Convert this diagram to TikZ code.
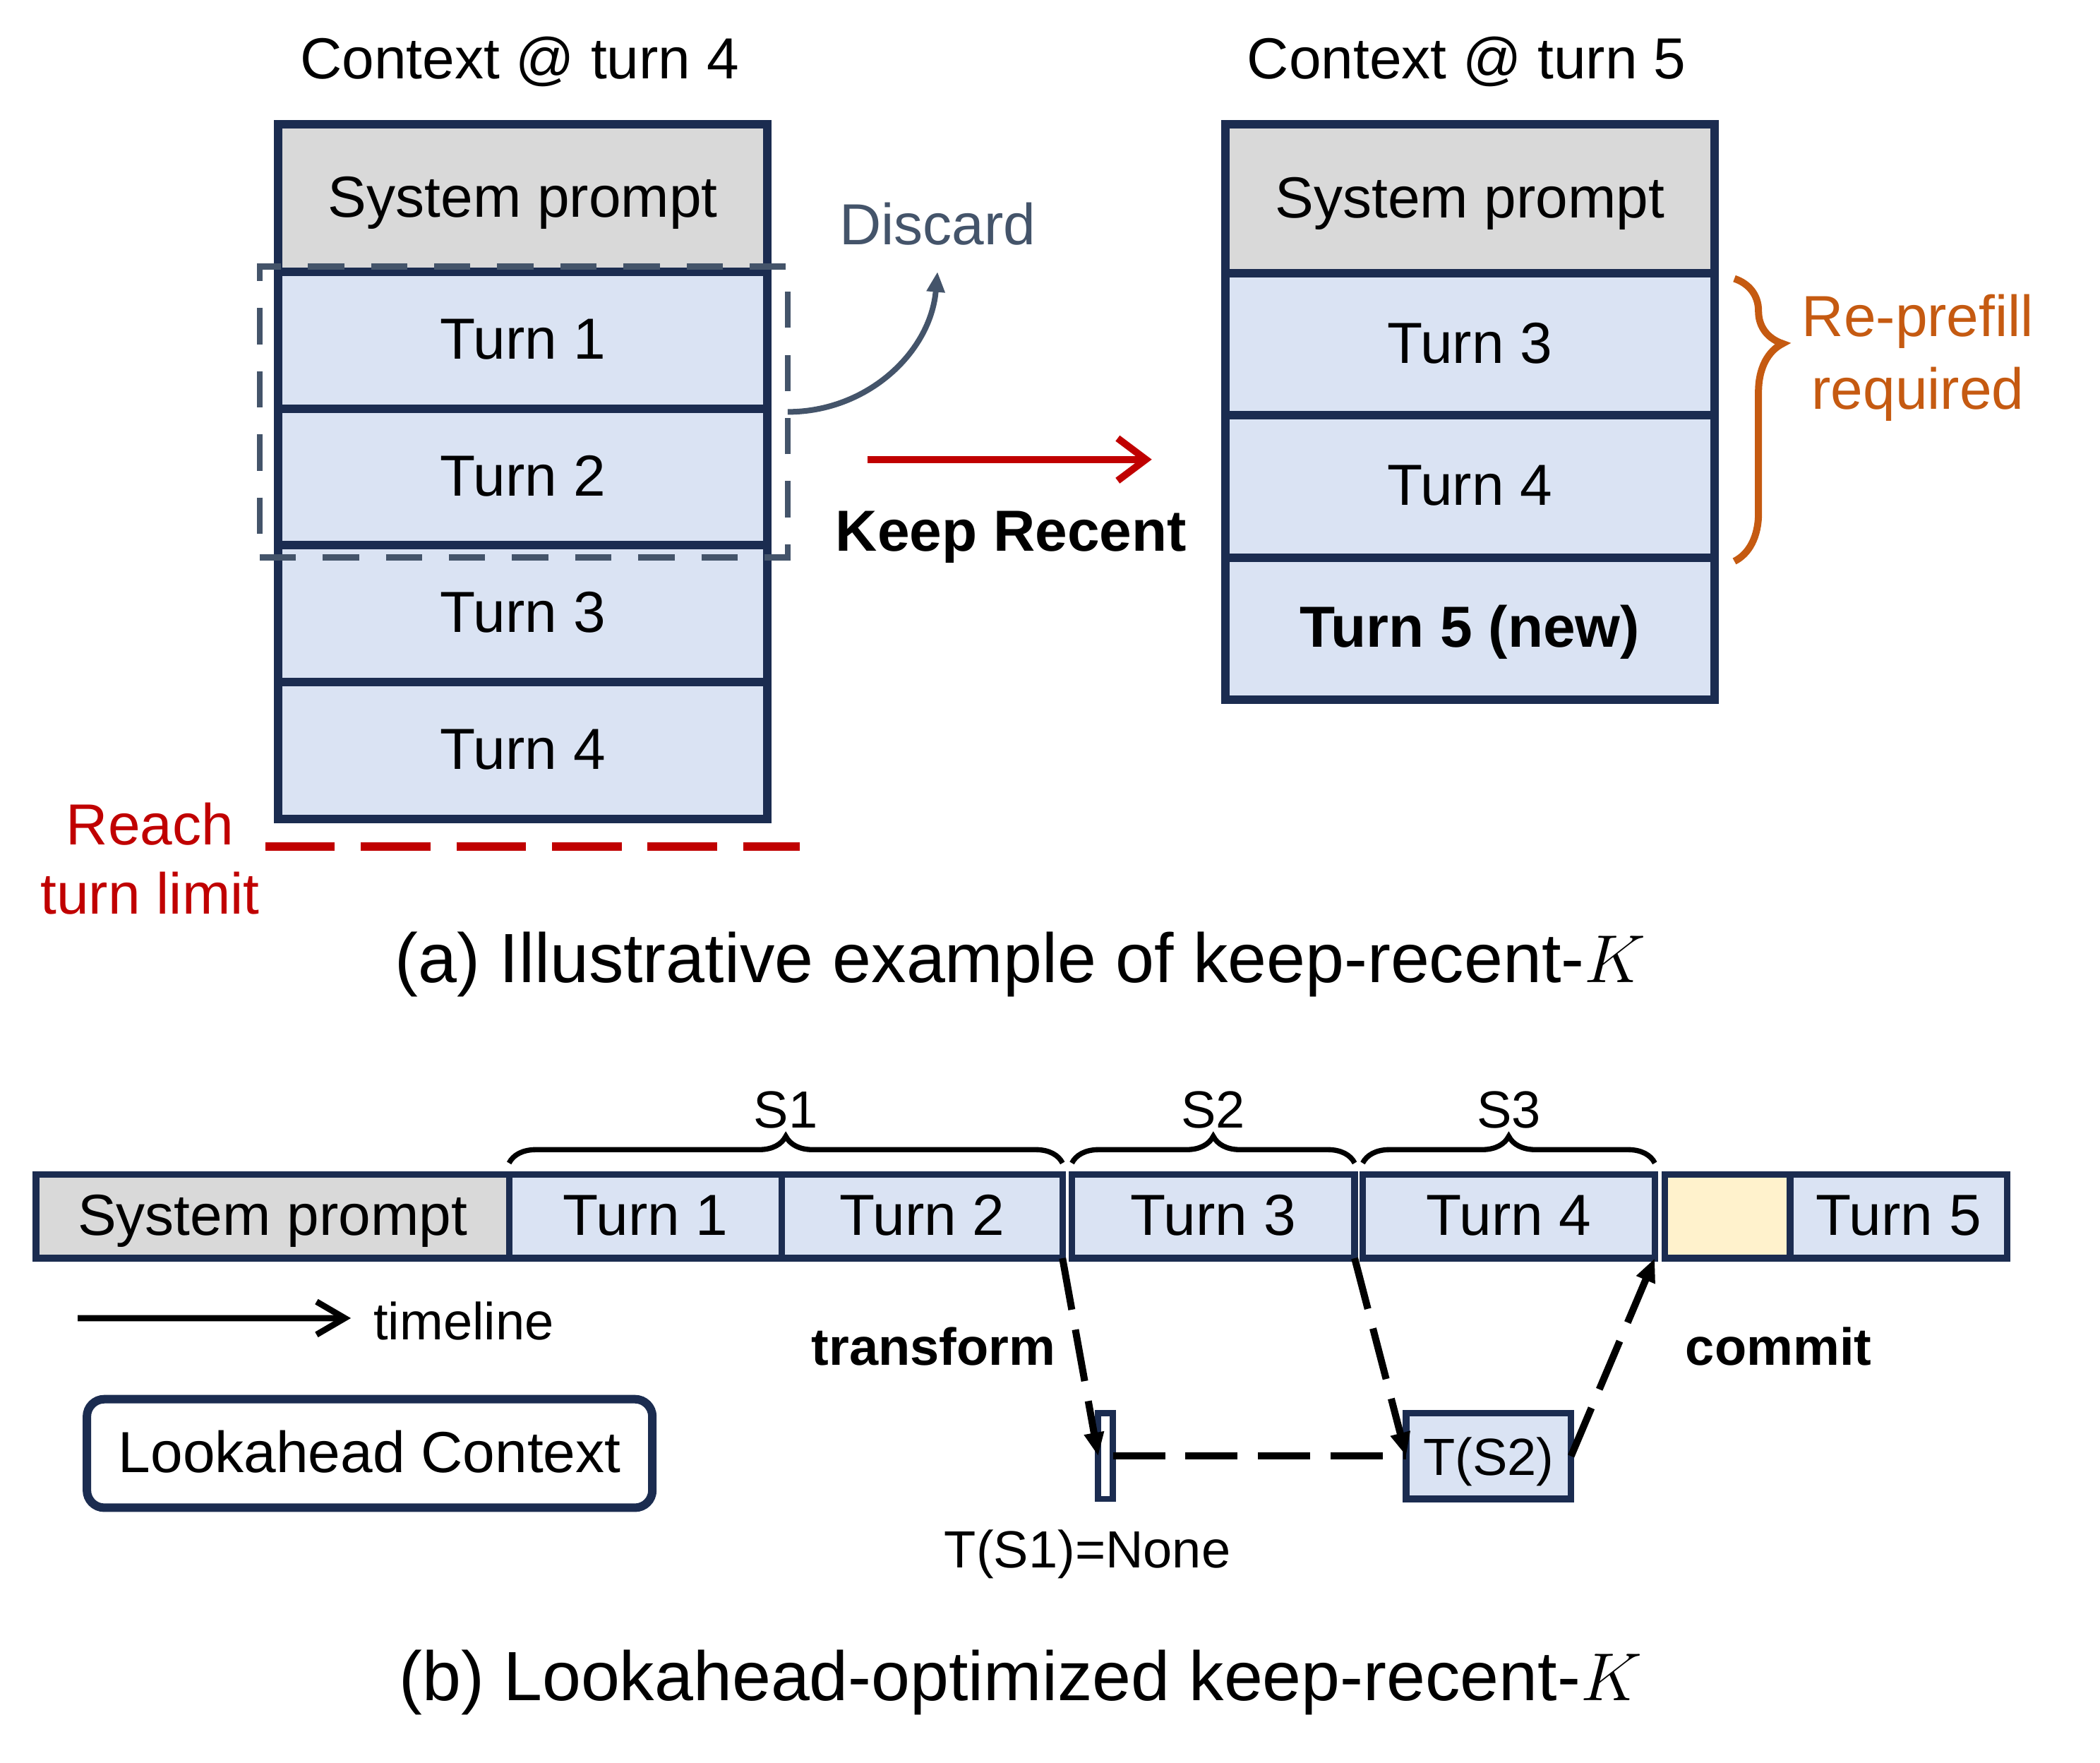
\documentclass[tikz,border=0pt]{standalone}
\usepackage{fontspec}
\setmainfont{Liberation Sans}
\usepackage{tikz}
\usetikzlibrary{positioning,arrows.meta,decorations.pathreplacing}
\definecolor{navy}{HTML}{1B2C50}
\definecolor{turnblue}{HTML}{DAE3F3}
\definecolor{promptgray}{HTML}{D9D9D9}
\definecolor{slate}{HTML}{44546A}
\definecolor{limitred}{HTML}{C00000}
\definecolor{burnt}{HTML}{C55A11}
\definecolor{slotyellow}{HTML}{FFF2CC}
\newcommand{\mainsize}{\fontsize{12.3}{14.8}\selectfont}
\newcommand{\smallsize}{\fontsize{11.1}{13.3}\selectfont}
\newcommand{\capsize}{\fontsize{14.8}{17.8}\selectfont}

\begin{document}
\begin{tikzpicture}[
  x=0.01cm, y=-0.01cm,
  every node/.style={font=\mainsize, inner sep=0pt, outer sep=0pt, align=center},
  cell/.style={draw=navy, line width=1.8pt, minimum width=3.65cm, text height=0.8em, text depth=0pt},
  sys/.style={cell, fill=promptgray, minimum height=1.1cm},
  turn/.style={cell, fill=turnblue, minimum height=1.02cm},
  turnr/.style={cell, fill=turnblue, minimum height=1.06cm},
  dropbox/.style={draw=slate, line width=1.25pt, dash pattern=on 7.7pt off 5.7pt, minimum width=3.94cm, minimum height=2.17cm},
  seg/.style={draw=navy, line width=1.4pt, fill=turnblue, minimum height=0.625cm, text height=0.8em, text depth=0pt},
  sbrace/.style={decorate, decoration={brace, amplitude=0.2cm}, line width=1.1pt},
  flow/.style={line width=1.5pt, dash pattern=on 11.1pt off 4.3pt, -{Triangle[length=5pt, width=4pt]}},
  small/.style={font=\smallsize}
]
\useasboundingbox (0,0) rectangle (1568,1316);

\node (ltitle) at (388,46) {Context @ turn 4};
\node (rtitle) at (1095,46) {Context @ turn 5};

\node[sys] (lsp) at (390.5,148) {System prompt};
\node[turn, below=0pt of lsp] (l1) {Turn 1};
\node[turn, below=0pt of l1] (l2) {Turn 2};
\node[turn, below=0pt of l2] (l3) {Turn 3};
\node[turn, below=0pt of l3] (l4) {Turn 4};
\node[dropbox] (drop) at (391,307.5) {};

\node[sys, minimum height=1.11cm] (rsp) at (1097.5,148.5) {System prompt};
\node[turnr, below=0pt of rsp] (r3) {Turn 3};
\node[turnr, below=0pt of r3] (r4) {Turn 4};
\node[turnr, below=0pt of r4] (r5) {\bfseries Turn 5 (new)};

\node[text=slate] (discard) at (700,167) {Discard};
\draw[slate, line width=1.2pt, -{Triangle[length=4.3pt, width=3.7pt]}] (drop.east) to[out=0, in=-95] ([yshift=-0.2cm]discard.south);

\coordinate (krfrom) at (648,343);
\coordinate (krto) at (860,343);
\draw[limitred, line width=1.5pt, -{Straight Barb[length=6pt, width=9pt]}] (krfrom) -- (krto);
\node[font=\mainsize\bfseries] (keep) at (755,401) {Keep Recent};

\coordinate (lim1) at (198,632);
\coordinate (lim2) at (597,632);
\draw[limitred, line width=1.8pt, dash pattern=on 14.8pt off 5.5pt] (lim1) -- (lim2);
\node[text=limitred] (reach) at (112,641) {Reach\\turn limit};

\draw[burnt, line width=1.5pt, decorate, decoration={brace, amplitude=0.36cm, aspect=0.23}] (1295,208) -- (1295,419);
\node[text=burnt, font=\fontsize{12.3}{15.4}\selectfont] (refill) at (1432,267) {Re-prefill\\required};

\node[font=\capsize] (capa) at (762,720) {(a) Illustrative example of keep-recent-$K$};

\node[seg, fill=promptgray, minimum width=3.53cm] (bsp) at (203.5,908) {System prompt};
\node[seg, minimum width=2.035cm, right=0pt of bsp] (b1) {Turn 1};
\node[seg, minimum width=2.095cm, right=0pt of b1] (b2) {Turn 2};
\node[seg, minimum width=2.11cm, right=0.07cm of b2] (b3) {Turn 3};
\node[seg, minimum width=2.18cm, right=0.06cm of b3] (b4) {Turn 4};
\node[seg, fill=slotyellow, minimum width=0.935cm, right=0.075cm of b4] (slot) {};
\node[seg, minimum width=1.62cm, right=0pt of slot] (b5) {Turn 5};

\draw[sbrace] ([yshift=0.085cm]b1.north west) -- ([yshift=0.085cm]b2.north east) node[midway, above=0.26cm, small] (s1) {S1};
\draw[sbrace] ([yshift=0.085cm]b3.north west) -- ([yshift=0.085cm]b3.north east) node[midway, above=0.26cm, small] (s2) {S2};
\draw[sbrace] ([yshift=0.085cm]b4.north west) -- ([yshift=0.085cm]b4.north east) node[midway, above=0.26cm, small] (s3) {S3};

\coordinate (tl0) at (58,984);
\node[small, anchor=west] (timeline) at (279,986) {timeline};
\draw[line width=1.3pt, -{Straight Barb[length=6pt, width=7pt]}] (tl0) -- ([xshift=-0.17cm, yshift=0.02cm]timeline.west);

\node[draw=navy, line width=1.8pt, rounded corners=0.13cm, minimum width=4.22cm, minimum height=0.81cm, text height=0.8em, text depth=0pt] (look) at (276,1085) {Lookahead Context};

\node[draw=navy, line width=1.3pt, fill=white, minimum width=0.11cm, minimum height=0.64cm] (ts1) at (825.5,1087) {};
\node[seg, small, minimum width=1.23cm, minimum height=0.64cm] (ts2) at (1111.5,1087) {T(S2)};
\node[small] (none) at (812,1160) {T(S1)=None};

\draw[flow] (b2.south east) -- (ts1.west);
\draw[flow] (b3.south east) -- (ts2.west);
\draw[flow] (ts2.east) -- (b4.south east);
\draw[line width=1.5pt, dash pattern=on 11.1pt off 4.3pt] (ts1.east) -- (ts2.west);
\node[small, font=\smallsize\bfseries] (transform) at (697,1005) {transform};
\node[small, font=\smallsize\bfseries] (commit) at (1328,1005) {commit};

\node[font=\capsize] (capb) at (762,1256) {(b) Lookahead-optimized keep-recent-$K$};
\end{tikzpicture}
\end{document}
